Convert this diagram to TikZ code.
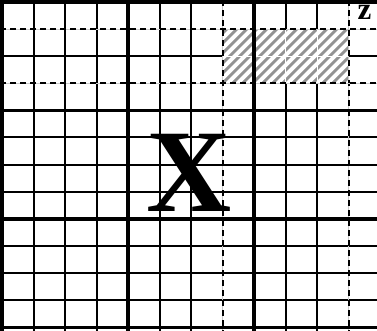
\documentclass[tikz,border=0pt]{standalone}
\usepackage{fontspec}
\setmainfont{Liberation Serif}
\begin{document}
\begin{tikzpicture}[x=1pt,y=-1pt,
  thingrid/.style={line width=2pt,black},
  thickgrid/.style={line width=3.4pt,black},
  dashgrid/.style={line width=2pt,black,dash pattern=on 6pt off 4pt},
  undergrid/.style={line width=0.6pt,gray!40},
  hatchline/.style={line width=2.8pt,gray!85},
]
\useasboundingbox (0,0) rectangle (377,331);
\begin{scope}
\clip (0,0) rectangle (377,331);
% thin lines
\foreach \i in {1,2,3,5,6,9,10} {
  \draw[thingrid] ({2+31.5*\i},0) -- ({2+31.5*\i},331);
}
\foreach \j in {2,5,6,7,9,10,11} {
  \draw[thingrid] (0,{2+27.1*\j}) -- (377,{2+27.1*\j});
}
% hatched region
\coordinate (h1) at (222.5,29.1);
\coordinate (h2) at (348.5,83.3);
\fill[white] (h1) rectangle (h2);
\begin{scope}
\clip (h1) rectangle (h2);
\foreach \k in {-8,...,14} {
  \draw[hatchline] ({222.5+10*\k},83.3) -- ++(60,-60);
}
\draw[white,line width=0.8pt] (254,29.1) -- (254,83.3);
\draw[white,line width=0.8pt] (285.5,29.1) -- (285.5,83.3);
\draw[white,line width=0.8pt] (317,29.1) -- (317,83.3);
\draw[white,line width=0.8pt] (222.5,56.2) -- (348.5,56.2);
\end{scope}
% dashed lines
\foreach \i in {7,11} {
  \draw[undergrid] ({2+31.5*\i},0) -- ({2+31.5*\i},331);
  \draw[dashgrid] ({2+31.5*\i},0) -- ({2+31.5*\i},331);
}
\foreach \j in {1,3} {
  \draw[undergrid] (0,{2+27.1*\j}) -- (377,{2+27.1*\j});
  \draw[dashgrid] (0,{2+27.1*\j}) -- (377,{2+27.1*\j});
}
% thick lines
\foreach \i in {0,4,8} {
  \draw[thickgrid] ({2+31.5*\i},0) -- ({2+31.5*\i},331);
}
\foreach \j in {0,4,8,12} {
  \draw[thickgrid] (0,{2+27.1*\j}) -- (377,{2+27.1*\j});
}
\end{scope}
\node[font=\fontsize{118}{118}\selectfont\bfseries, anchor=base, inner sep=0pt] (X) at (189.5,211) {X};
\node[font=\fontsize{31}{31}\selectfont\bfseries, anchor=base, inner sep=0pt] (z) at (364.5,19.5) {z};
\end{tikzpicture}
\end{document}
